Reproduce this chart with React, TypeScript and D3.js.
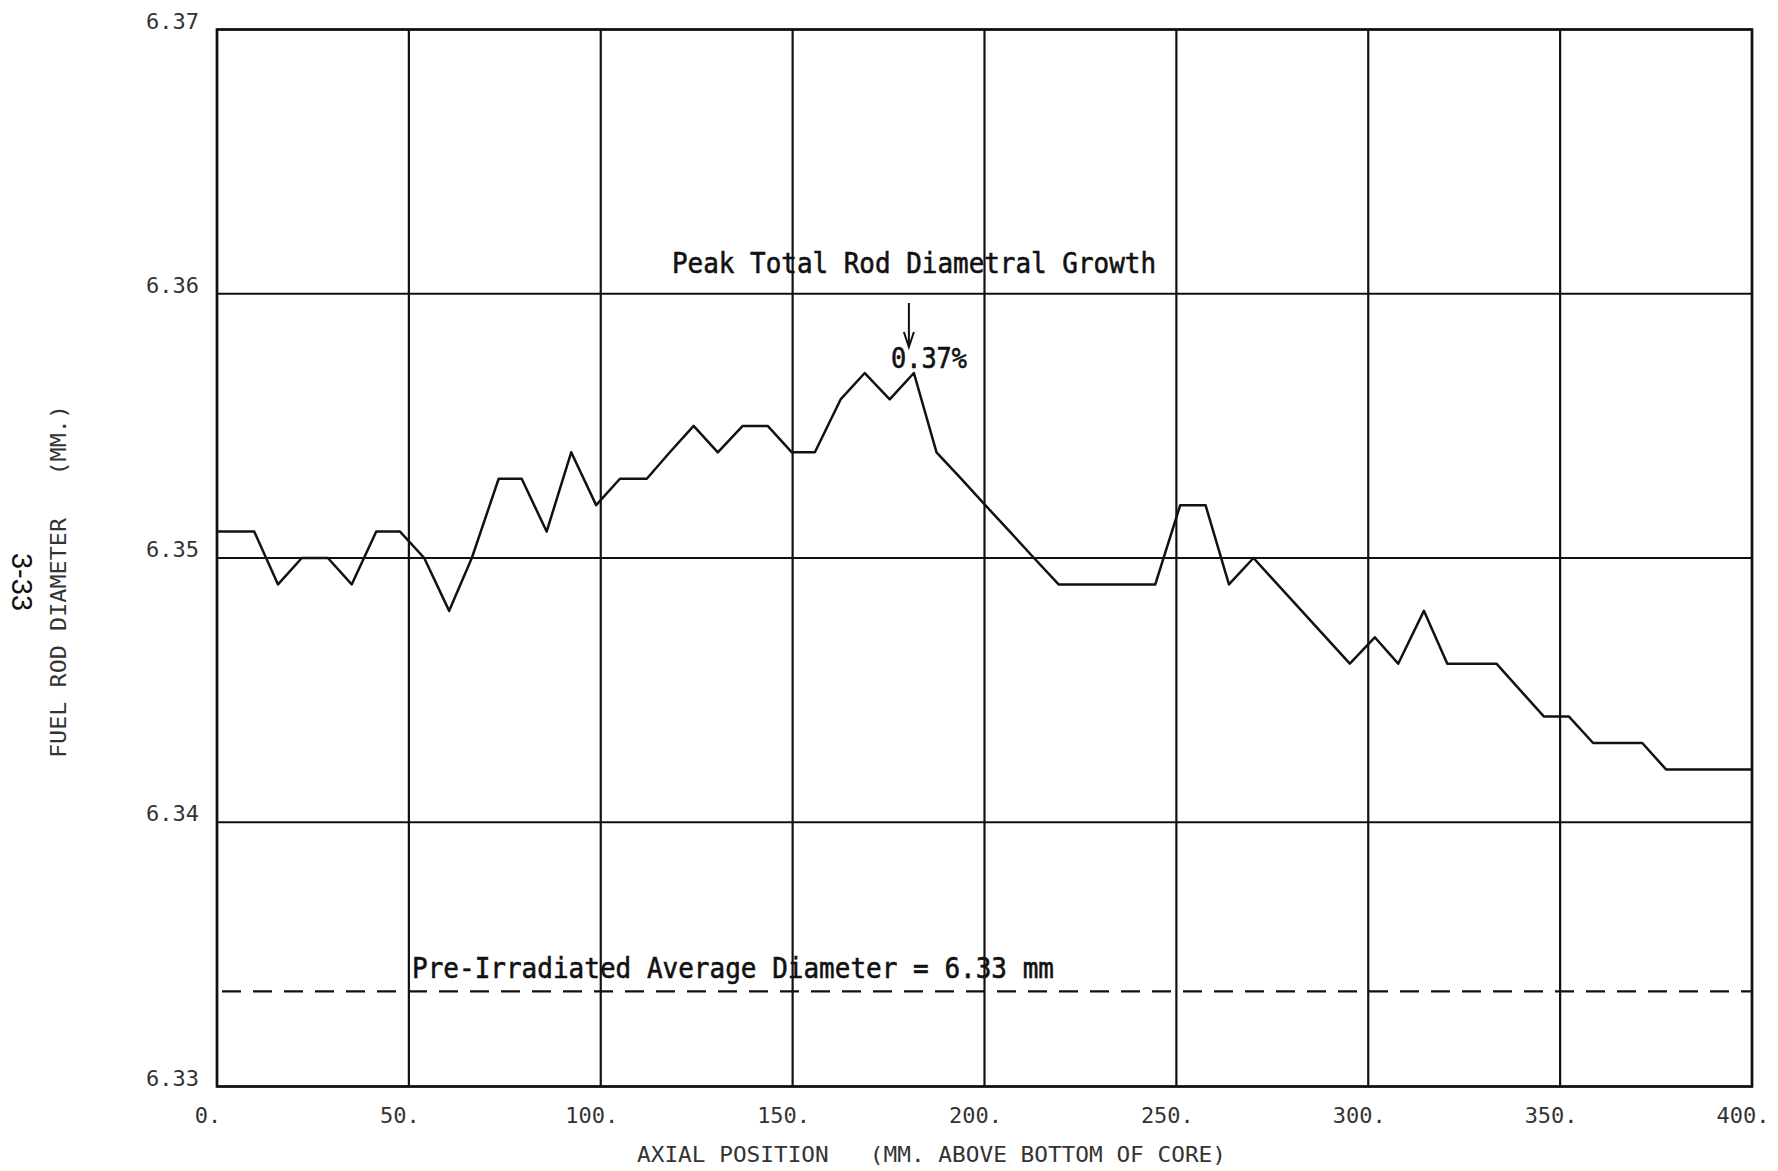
import React from "react";
import * as d3 from "d3";

// ---- data ----
const axialPosition = [
  0, 9.7, 15.9, 22.1, 28.9, 35.1, 41.5, 47.7, 54.0, 60.5, 66.4, 73.4, 79.4, 85.9, 92.3, 98.8,
  105, 112, 118, 124.2, 130.5, 137, 143.5, 149.8, 155.8, 162.5, 168.8, 175.3, 181.6, 187.5,
  193.9, 200.2, 206.6, 212.9, 219.3, 244.5, 251, 257.6, 263.7, 270.1, 295.2, 301.7, 307.8,
  314.5, 320.6, 333.4, 345.8, 352.3, 358.6, 371.4, 377.6, 400,
];
const rodDiameter = [
  6.351, 6.351, 6.349, 6.35, 6.35, 6.349, 6.351, 6.351, 6.35, 6.348, 6.35, 6.353, 6.353, 6.351, 6.354, 6.352,
  6.353, 6.353, 6.354, 6.355, 6.354, 6.355, 6.355, 6.354, 6.354, 6.356, 6.357, 6.356, 6.357, 6.354,
  6.353, 6.352, 6.351, 6.35, 6.349, 6.349, 6.352, 6.352, 6.349, 6.35, 6.346, 6.347, 6.346,
  6.348, 6.346, 6.346, 6.344, 6.344, 6.343, 6.343, 6.342, 6.342,
];
const xTicks = [0, 50, 100, 150, 200, 250, 300, 350, 400];
const xTickLabels = ["0.", "50.", "100.", "150.", "200.", "250.", "300.", "350.", "400."];
const yTicks = [6.33, 6.34, 6.35, 6.36, 6.37];
const yTickLabels = ["6.33", "6.34", "6.35", "6.36", "6.37"];
const preIrradiatedDiameter = 6.3336;
const peakPosition = 181.6;

const xTitle = "AXIAL POSITION   (MM. ABOVE BOTTOM OF CORE)";
const yTitle = "FUEL ROD DIAMETER   (MM.)";
const peakLabel = "Peak Total Rod Diametral Growth";
const peakValueLabel = "0.37%";
const preLabel = "Pre-Irradiated Average Diameter = 6.33 mm";
const pageNumber = "3-33";

export default function App() {
  const W = 1778;
  const H = 1171;
  const x = d3.scaleLinear().domain([0, 400]).range([217, 1752]);
  const y = d3.scaleLinear().domain([6.33, 6.37]).range([1086.5, 29.5]);
  const pts = axialPosition.map((p, i) => [p, rodDiameter[i]] as [number, number]);
  const line = d3
    .line<[number, number]>()
    .x((d) => x(d[0]))
    .y((d) => y(d[1]));
  const mono = "'DejaVu Sans Mono', 'Liberation Mono', monospace";
  const ax = x(peakPosition) - 5;

  return (
    <svg
      width={W}
      height={H}
      viewBox={`0 0 ${W} ${H}`}
      style={{ position: "absolute", left: 0, top: 0, background: "#fff" }}
    >
      <rect x={0} y={0} width={W} height={H} fill="#fff" />
      {/* grid */}
      {xTicks.map((t) => (
        <line key={"gx" + t} x1={x(t)} x2={x(t)} y1={y(6.37)} y2={y(6.33)} stroke="#111" strokeWidth={2.2} />
      ))}
      {yTicks.map((t) => (
        <line key={"gy" + t} x1={x(0)} x2={x(400)} y1={y(t)} y2={y(t)} stroke="#111" strokeWidth={2.2} />
      ))}
      <rect
        x={x(0)}
        y={y(6.37)}
        width={x(400) - x(0)}
        height={y(6.33) - y(6.37)}
        fill="none"
        stroke="#111"
        strokeWidth={2.6}
      />
      {/* dashed pre-irradiated line */}
      <line
        x1={x(0) + 5}
        x2={x(400)}
        y1={y(preIrradiatedDiameter)}
        y2={y(preIrradiatedDiameter)}
        stroke="#111"
        strokeWidth={2.2}
        strokeDasharray="19 12"
      />
      {/* data */}
      <path d={line(pts) || ""} fill="none" stroke="#111" strokeWidth={2.5} strokeLinejoin="round" />

      {/* tick labels */}
      {yTicks.map((t, i) => (
        <text
          key={"ty" + t}
          x={199}
          y={y(t) - 1}
          textAnchor="end"
          fontFamily={mono}
          fontSize={22}
          fill="#333"
        >
          {yTickLabels[i]}
        </text>
      ))}
      {xTicks.map((t, i) => (
        <text
          key={"tx" + t}
          x={x(t) - 9}
          y={1123}
          textAnchor="middle"
          fontFamily={mono}
          fontSize={22}
          fill="#333"
        >
          {xTickLabels[i]}
        </text>
      ))}

      {/* axis titles */}
      <text
        x={637}
        y={1162}
        fontFamily={mono}
        fontSize={21}
        fill="#333"
        textLength={589}
        lengthAdjust="spacingAndGlyphs"
        style={{ whiteSpace: "pre" }}
      >
        {xTitle}
      </text>
      <text
        transform={`translate(66,758) rotate(-90)`}
        x={0}
        y={0}
        fontFamily={mono}
        fontSize={21}
        fill="#333"
        textLength={353}
        lengthAdjust="spacingAndGlyphs"
        style={{ whiteSpace: "pre" }}
      >
        {yTitle}
      </text>
      <text
        transform={`translate(12,553) rotate(90)`}
        x={0}
        y={0}
        fontFamily="'Liberation Sans', Arial, sans-serif"
        fontSize={29}
        fill="#111"
        textLength={58}
        lengthAdjust="spacingAndGlyphs"
      >
        {pageNumber}
      </text>

      {/* annotations */}
      <g stroke="#111" strokeWidth={0.6}>
        <text
          x={672}
          y={273}
          fontFamily={mono}
          fontSize={29}
          fill="#111"
          textLength={484}
          lengthAdjust="spacingAndGlyphs"
        >
          {peakLabel}
        </text>
        <text
          x={891}
          y={368}
          fontFamily={mono}
          fontSize={28}
          fill="#111"
          textLength={76}
          lengthAdjust="spacingAndGlyphs"
        >
          {peakValueLabel}
        </text>
        <text
          x={412}
          y={978}
          fontFamily={mono}
          fontSize={29}
          fill="#111"
          textLength={642}
          lengthAdjust="spacingAndGlyphs"
        >
          {preLabel}
        </text>
      </g>
      <line x1={ax} x2={ax} y1={303} y2={345} stroke="#111" strokeWidth={2} />
      <path d={`M${ax - 5},332 L${ax},347 L${ax + 5},332`} fill="none" stroke="#111" strokeWidth={2} />
    </svg>
  );
}
